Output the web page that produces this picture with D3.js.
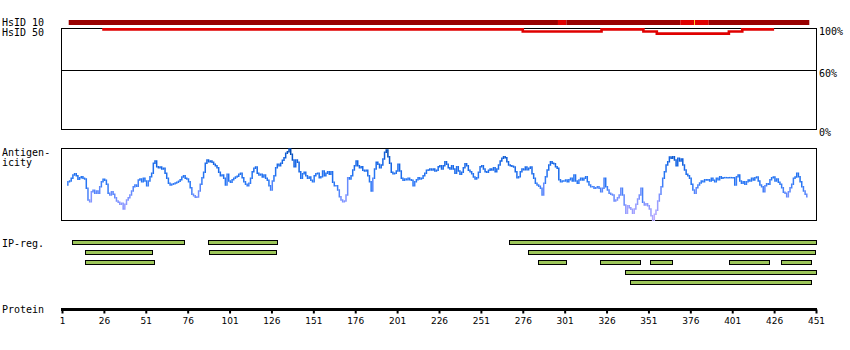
<!DOCTYPE html>
<html>
<head>
<meta charset="utf-8">
<script src="https://cdn.jsdelivr.net/npm/d3@7"></script>
<style>
  body { margin: 0; background: #fff; }
  text { fill: #000; }
</style>
</head>
<body>
<div id="viz"></div>
<script>
// Protein length and axis ticks
const proteinFirst = 1;
const proteinLast = 451;
const tickValues = [1, 26, 51, 76, 101, 126, 151, 176, 201, 226, 251, 276, 301, 326, 351, 376, 401, 426, 451];
const idTickValues = [100, 60, 0];

// HsID 10 bar: [from, to, level] (level 1 = dark, 2 = bright)
const hsid10 = [[5, 297, 1], [297, 302, 2], [302, 370, 1], [370, 387, 2], [387, 447, 1]];
const hsid10Marks = [378];

// HsID 50 identity line: [from, to, percent]
const hsid50 = [[25, 276, 100], [276, 323, 98], [323, 348, 100], [348, 356, 98], [356, 399, 96], [399, 407, 98], [407, 426, 100]];

// Antigenicity, one value per residue starting at residue 4
const antigenStart = 4;
const antigenicity = [
  -10,0,2,10,20,24,18,7,12,15,10,8,-20,-55,-60,-30,-26,-35,-28,-35,
  -15,0,7,4,-8,-35,-40,-30,-38,-48,-58,-62,-68,-65,-82,-68,-55,-48,-40,-28,
  -15,-10,-14,5,8,0,10,2,-12,2,15,25,55,62,45,42,44,38,40,25,
  10,-5,-10,-8,-6,-4,-2,1,6,14,18,10,8,0,-18,-38,-42,-47,-46,-28,
  -8,12,28,55,65,60,62,58,52,48,42,28,18,20,10,-10,22,2,-2,6,
  10,14,16,22,25,12,0,-8,-12,-5,10,30,40,44,25,20,22,14,20,10,
  4,-12,-25,2,18,42,52,48,55,64,72,85,90,98,82,65,45,65,58,30,
  10,24,28,18,10,14,4,0,18,24,25,12,15,32,18,25,30,22,30,-2,
  -12,-12,-25,-45,-55,-60,-58,-40,12,8,18,35,48,62,48,42,45,34,32,34,
  18,0,-28,10,38,58,52,42,50,68,88,95,75,55,28,24,25,32,52,32,
  10,4,8,6,10,6,4,-12,0,6,12,8,10,18,25,34,35,38,35,38,
  32,34,45,48,38,48,60,52,42,38,48,38,25,45,32,22,28,42,54,48,
  34,30,24,14,8,12,28,45,48,38,30,28,34,38,35,42,30,38,50,62,
  70,75,72,60,50,48,46,44,30,12,15,30,38,36,44,36,40,44,24,10,
  -5,-10,-14,-20,-40,-5,15,35,50,60,55,54,45,40,6,0,2,2,5,0,
  6,10,2,20,2,-5,5,10,5,10,15,0,-10,-15,-15,-20,-18,-15,-20,-30,
  -20,10,-15,-25,-35,-38,-40,-58,-55,-48,-40,-20,-40,-70,-95,-72,-78,-83,-95,-82,
  -68,-52,-40,-20,-62,-70,-66,-72,-82,-102,-116,-98,-86,-58,-38,-15,10,30,50,60,
  74,70,75,65,48,70,62,68,50,35,22,18,10,-8,-25,-35,-18,-10,-4,2,
  0,6,5,6,2,10,4,0,10,6,15,10,12,12,12,12,12,12,12,-10,
  15,20,2,-5,0,-8,0,5,2,10,5,12,14,2,-10,-15,-30,-12,-6,-8,
  6,12,14,2,8,-2,-8,-18,-32,-35,-45,-30,-18,-8,10,14,25,15,0,-15,
  -28,-38,-45
];

// IP regions: [from, to, row]
const ipRegions = [
  [7, 74, 0], [88, 129, 0], [268, 451, 0],
  [15, 55, 1], [89, 129, 1], [279, 450, 1],
  [15, 56, 2], [285, 302, 2], [322, 346, 2], [352, 365, 2], [399, 423, 2], [430, 448, 2],
  [337, 451, 3],
  [340, 448, 4]
];

const svg = d3.select("#viz").append("svg")
  .attr("width", 850)
  .attr("height", 350)
  .style("font-family", "'DejaVu Sans Mono', monospace")
  .style("font-size", "10px");

const x = d3.scaleLinear().domain([proteinFirst, proteinLast]).range([62, 816]);
const yId = d3.scaleLinear().domain([0, 60, 100]).range([129, 70, 28]);
const yAnt = d3.scaleLinear().domain([-100, 100]).range([215, 148.33]);
const antColor = d3.scaleLinear()
  .domain([-110, -50, 0, 60, 100])
  .range(["#b4a8ff", "#7890ff", "#2a78f5", "#1464e4", "#0048b0"]);

// left labels
const labels = [["HsID 10", 26], ["HsID 50", 36], ["Antigen-", 156], ["icity", 166], ["IP-reg.", 247], ["Protein", 313]];
svg.selectAll("text.lbl").data(labels).enter().append("text")
  .attr("class", "lbl")
  .attr("x", 2)
  .attr("y", d => d[1])
  .text(d => d[0]);

// identity box
svg.append("rect")
  .attr("x", 61.5).attr("y", 28.5)
  .attr("width", 755).attr("height", 101)
  .attr("fill", "none").attr("stroke", "#000");
svg.append("line")
  .attr("x1", 61.5).attr("x2", 816.5)
  .attr("y1", Math.round(yId(60)) + 0.5).attr("y2", Math.round(yId(60)) + 0.5)
  .attr("stroke", "#000");
svg.selectAll("text.pct").data(idTickValues).enter().append("text")
  .attr("class", "pct")
  .attr("x", 819)
  .attr("y", d => yId(d) + 7)
  .text(d => d + "%");

// HsID 10 bar
svg.selectAll("rect.h10").data(hsid10).enter().append("rect")
  .attr("class", "h10")
  .attr("x", d => x(d[0]))
  .attr("width", d => x(d[1]) - x(d[0]))
  .attr("y", 20).attr("height", 5)
  .attr("fill", d => d[2] === 1 ? "#990000" : "#e00000");
svg.selectAll("rect.h10m").data(hsid10Marks).enter().append("rect")
  .attr("x", d => Math.round(x(d)))
  .attr("width", 1)
  .attr("y", 20).attr("height", 5)
  .attr("fill", "#ffcc33");

// HsID 50 line
const h50pts = [];
hsid50.forEach(d => { h50pts.push([d[0], d[2]]); h50pts.push([d[1], d[2]]); });
svg.append("path")
  .datum(h50pts)
  .attr("fill", "none")
  .attr("stroke", "#e00000")
  .attr("stroke-width", 2.6)
  .attr("d", d3.line().x(d => x(d[0])).y(d => yId(d[1]) + 1.4));

// antigenicity box
svg.append("rect")
  .attr("x", 61.5).attr("y", 148.5)
  .attr("width", 755).attr("height", 72)
  .attr("fill", "none").attr("stroke", "#000");

const antData = antigenicity.map((v, i) => ({ r: antigenStart + i, v: v }));
svg.append("g").selectAll("path").data(antData.slice(0, -1)).enter().append("path")
  .attr("fill", "none")
  .attr("stroke-width", 1.5)
  .attr("stroke", d => antColor(d.v))
  .attr("d", (d, i) => {
    const n = antData[i + 1];
    const x0 = x(d.r), x1 = x(n.r), xm = (x0 + x1) / 2;
    return "M" + x0 + "," + yAnt(d.v) + "H" + xm + "V" + yAnt(n.v) + "H" + x1;
  });

// IP regions
svg.selectAll("rect.ip").data(ipRegions).enter().append("rect")
  .attr("class", "ip")
  .attr("x", d => Math.round(x(d[0])) + 0.5)
  .attr("width", d => Math.round(x(d[1]) - x(d[0])))
  .attr("y", d => 240.5 + d[2] * 10)
  .attr("height", 4)
  .attr("fill", "#9dc65a")
  .attr("stroke", "#000");

// protein axis
const axis = d3.axisBottom(x).tickValues(tickValues).tickSize(4).tickSizeOuter(0).tickPadding(4);
const gAxis = svg.append("g").attr("transform", "translate(0,309.5)").call(axis);
gAxis.select(".domain").attr("stroke-width", 3).attr("d", "M61," + 0 + "H817");
gAxis.selectAll(".tick line").attr("stroke-width", 2);
gAxis.selectAll(".tick text")
  .style("font-family", "'DejaVu Sans', sans-serif")
  .style("font-size", "9px");
</script>
</body>
</html>
